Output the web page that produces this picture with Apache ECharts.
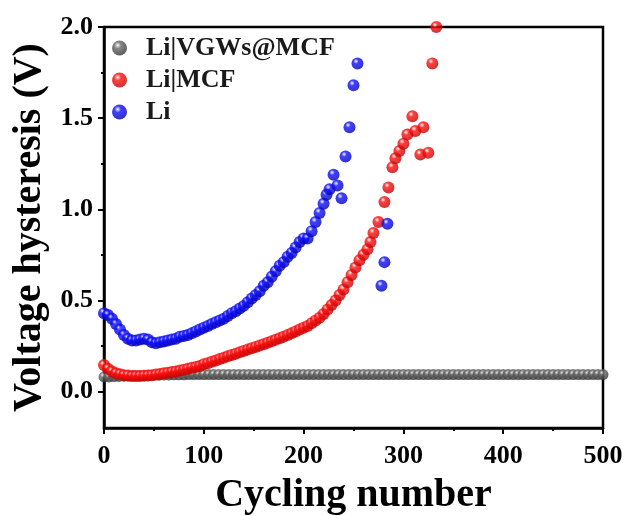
<!DOCTYPE html>
<html>
<head>
    <meta charset="UTF-8">
    <title></title>
    <script src="https://cdn.jsdelivr.net/npm/echarts@6/dist/echarts.min.js"></script>
</head>
<body style="margin:0">
<div id="chart" style="width:628px;height:516px;"></div>
<script>
// Li|VGWs@MCF - flat line, every 5 cycles
var grayCycles = [0,5,10,15,20,25,30,35,40,45,50,55,60,65,70,75,80,85,90,95,
    100,105,110,115,120,125,130,135,140,145,150,155,160,165,170,175,180,185,190,195,
    200,205,210,215,220,225,230,235,240,245,250,255,260,265,270,275,280,285,290,295,
    300,305,310,315,320,325,330,335,340,345,350,355,360,365,370,375,380,385,390,395,
    400,405,410,415,420,425,430,435,440,445,450,455,460,465,470,475,480,485,490,495,500];
var grayValues = [0.08,0.08,0.082,0.083,0.084,0.085,0.086,0.087,0.088,0.089,0.09,0.09,0.091,0.091,0.092,0.092,0.092,0.093,0.093,0.093,
    0.093,0.093,0.093,0.093,0.093,0.093,0.093,0.093,0.093,0.093,0.093,0.093,0.093,0.093,0.093,0.093,0.093,0.093,0.093,0.093,
    0.093,0.093,0.093,0.093,0.093,0.093,0.093,0.093,0.093,0.093,0.093,0.093,0.093,0.093,0.093,0.093,0.093,0.093,0.093,0.093,
    0.093,0.093,0.093,0.093,0.093,0.093,0.093,0.093,0.093,0.093,0.093,0.093,0.093,0.093,0.093,0.093,0.093,0.093,0.093,0.093,
    0.093,0.093,0.093,0.093,0.093,0.093,0.093,0.093,0.093,0.093,0.093,0.093,0.093,0.093,0.093,0.093,0.093,0.093,0.093,0.093,0.093];

// Li|MCF
var redCycles = [0,4,8,12,16,20,24,28,32,36,40,44,48,52,56,60,64,68,72,76,80,84,88,92,96,
    100,104,108,112,116,120,124,128,132,136,140,144,148,152,156,160,164,168,172,176,180,184,188,192,196,
    200,204,208,212,216,220,224,228,232,236,240,244,248,252,256,260,264,267,270,275,281,285,289,292,296,
    300,304,309,312,317,320,325,329,333];
var redValues = [0.145,0.125,0.11,0.1,0.095,0.09,0.088,0.085,0.085,0.085,0.087,0.088,0.09,0.093,0.096,0.1,0.103,0.107,0.11,0.115,0.12,0.125,0.13,0.135,0.14,
    0.15,0.155,0.163,0.17,0.178,0.185,0.193,0.2,0.208,0.215,0.223,0.23,0.238,0.245,0.253,0.26,0.268,0.276,0.284,0.292,0.3,0.31,0.32,0.33,0.34,
    0.35,0.36,0.375,0.39,0.405,0.425,0.45,0.475,0.5,0.53,0.56,0.6,0.64,0.68,0.72,0.75,0.78,0.82,0.87,0.93,1.04,1.12,1.23,1.28,1.32,
    1.36,1.41,1.51,1.43,1.3,1.45,1.31,1.8,2.0];

// Li
var blueCycles = [0,4,8,12,16,20,24,28,32,36,40,44,48,52,56,60,64,68,72,76,80,84,88,92,96,
    100,104,108,112,116,120,124,128,132,136,140,144,148,152,156,160,164,168,172,176,180,184,188,192,196,
    200,204,208,212,216,220,223,226,230,234,238,242,246,250,254,278,281,284];
var blueValues = [0.43,0.42,0.4,0.37,0.34,0.31,0.29,0.28,0.28,0.285,0.29,0.285,0.27,0.265,0.27,0.275,0.28,0.285,0.29,0.3,0.305,0.31,0.32,0.33,0.34,
    0.35,0.36,0.37,0.38,0.39,0.4,0.415,0.43,0.44,0.455,0.47,0.49,0.51,0.53,0.55,0.58,0.6,0.63,0.66,0.69,0.71,0.74,0.76,0.79,0.82,
    0.84,0.84,0.88,0.93,0.98,1.03,1.08,1.11,1.19,1.13,1.06,1.29,1.45,1.68,1.8,0.58,0.71,0.92];

var yTicks = [0, 0.5, 1.0, 1.5, 2.0];
var yMinorTicks = [0.25, 0.75, 1.25, 1.75];

function pairs(xs, ys) {
    return xs.map(function (x, i) { return [x, ys[i]]; });
}
function ball(base, dark) {
    return {
        type: 'radial', x: 0.38, y: 0.32, r: 0.7,
        colorStops: [
            {offset: 0, color: '#ffffff'},
            {offset: 0.3, color: base},
            {offset: 1, color: dark}
        ]
    };
}

var font = 'Liberation Serif';
var chart = echarts.init(document.getElementById('chart'));
var option = {
    animation: false,
    backgroundColor: '#fff',
    grid: {
        left: 104, right: 25, top: 27, bottom: 88, outerBoundsMode: 'none',
        show: true, borderColor: '#000', borderWidth: 2.5
    },
    legend: {
        orient: 'vertical', left: 107, top: 30, itemGap: 6,
        icon: 'circle', itemWidth: 15, itemHeight: 15,
        textStyle: {fontFamily: font, fontWeight: 'bold', fontSize: 26, color: '#1a1a1a', padding: [0, 0, 0, 14]},
        data: ['Li|VGWs@MCF', 'Li|MCF', 'Li']
    },
    xAxis: {
        type: 'value', min: 0, max: 500, interval: 100,
        name: 'Cycling number', nameLocation: 'middle', nameGap: 48,
        nameTextStyle: {fontFamily: font, fontWeight: 'bold', fontSize: 40, color: '#000'},
        axisLine: {onZero: false, lineStyle: {color: '#000', width: 2.5}},
        axisTick: {length: 6, lineStyle: {width: 2}},
        minorTick: {show: true, splitNumber: 2, length: 3, lineStyle: {color: '#000', width: 2}},
        splitLine: {show: false},
        axisLabel: {fontFamily: font, fontWeight: 'bold', fontSize: 26, color: '#000', margin: 15}
    },
    yAxis: [{
        type: 'value', min: -0.2, max: 2.0,
        name: 'Voltage hysteresis (V)', nameLocation: 'middle', nameGap: 50,
        nameTextStyle: {fontFamily: font, fontWeight: 'bold', fontSize: 40, color: '#000'},
        axisLine: {onZero: false, lineStyle: {color: '#000', width: 2.5}},
        axisTick: {length: 6, lineStyle: {width: 2}, customValues: yTicks},
        splitLine: {show: false},
        axisLabel: {
            fontFamily: font, fontWeight: 'bold', fontSize: 26, color: '#000', margin: 11,
            customValues: yTicks,
            formatter: function (v) { return v.toFixed(1); }
        }
    }, {
        type: 'value', min: -0.2, max: 2.0, position: 'left',
        axisLine: {show: false},
        axisTick: {length: 3, lineStyle: {color: '#000', width: 2}, customValues: yMinorTicks},
        axisLabel: {show: false, customValues: yMinorTicks},
        splitLine: {show: false}
    }],
    series: [
        {
            name: 'Li|VGWs@MCF', type: 'scatter', symbolSize: 11,
            itemStyle: {color: ball('#6a6a6a', '#333333')},
            data: pairs(grayCycles, grayValues)
        },
        {
            name: 'Li|MCF', type: 'scatter', symbolSize: 12,
            itemStyle: {color: ball('#ff1010', '#c00000')},
            data: pairs(redCycles, redValues)
        },
        {
            name: 'Li', type: 'scatter', symbolSize: 12,
            itemStyle: {color: ball('#1010ff', '#0000b0')},
            data: pairs(blueCycles, blueValues)
        }
    ]
};
chart.setOption(option);
</script>
</body>
</html>
